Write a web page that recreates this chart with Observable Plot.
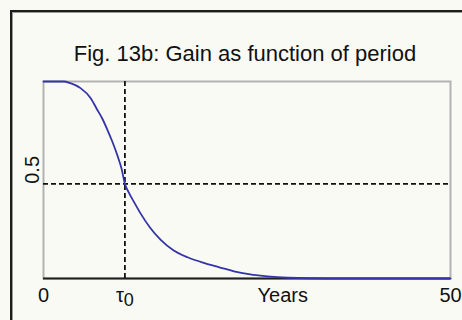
<!DOCTYPE html>
<html>
<head>
<meta charset="utf-8">
<script src="https://cdn.jsdelivr.net/npm/d3@7"></script>
<script src="https://cdn.jsdelivr.net/npm/@observablehq/plot@0.6"></script>
<style>
  html, body { margin: 0; padding: 0; width: 462px; height: 320px; overflow: hidden; background: #fafaf4; }
  #frame { position: absolute; left: 10px; top: 10px; width: 600px; height: 500px;
           border-left: 2px solid #1c1c1c; border-top: 2px solid #1c1c1c;
           box-shadow: inset 1px 1px 0 #9a9a9a; }
  #chart { position: absolute; left: 0; top: 0; }
</style>
</head>
<body>
<div id="frame"></div>
<div id="chart"></div>
<script>
const title = "Fig. 13b: Gain as function of period";
const years = [0, 2.5, 3.3, 4.55, 5.8, 6.6, 7.2, 7.85, 8.45, 9.05, 9.6, 10, 10.5, 11.1, 11.9, 13.1, 14.4, 16.0, 17.7, 19.7, 21.7, 23.4, 25.4, 27.5, 30, 35, 50];
const gain  = [1.04, 1.04, 1.031, 1.005, 0.952, 0.891, 0.846, 0.785, 0.723, 0.653, 0.578, 0.5, 0.452, 0.405, 0.345, 0.268, 0.204, 0.148, 0.112, 0.082, 0.058, 0.038, 0.022, 0.011, 0.004, 0, 0];
const tau0 = 10;
const halfGain = 0.5;
const xTickValues = [0, 10, 29.4, 50];
const xTickLabels = ["0", "τ0", "Years", "50"];
const yTickValues = [0.5];
const yTickLabels = ["0.5"];

const data = years.map((t, i) => ({t, g: gain[i]}));

const plot = Plot.plot({
  width: 462,
  height: 320,
  marginTop: 81,
  marginBottom: 42,
  marginLeft: 43,
  marginRight: 12,
  style: { background: "transparent", fontFamily: "'Liberation Sans', Arial, sans-serif" },
  x: { domain: [0, 50], axis: null },
  y: { domain: [0, 1.04], axis: null },
  marks: [
    Plot.frame({ stroke: "#b2b2b2", strokeWidth: 2 }),
    Plot.ruleY([0], { stroke: "#202020", strokeWidth: 2 }),
    Plot.ruleX([tau0], { stroke: "#111", strokeWidth: 1.8, strokeDasharray: "5,3" }),
    Plot.ruleY([halfGain], { stroke: "#111", strokeWidth: 1.8, strokeDasharray: "5,3" }),
    Plot.line(data, { x: "t", y: "g", stroke: "#3434a8", strokeWidth: 1.8, curve: "monotone-x" }),
    Plot.text(xTickValues, { x: d => d, text: (d, i) => xTickLabels[i], frameAnchor: "bottom", dy: 23, fontSize: 20, fill: "#111" }),
    Plot.text(yTickValues, { y: d => d, text: (d, i) => yTickLabels[i], frameAnchor: "left", dx: -11, rotate: -90, fontSize: 20, fill: "#111" }),
    Plot.text([title], { text: d => d, frameAnchor: "top", dy: -36, dx: -2, fontSize: 22, fill: "#111" })
  ]
});
document.getElementById("chart").appendChild(plot);
plot.querySelectorAll("text").forEach(el => {
  if (el.textContent === "τ0") {
    el.textContent = "τ";
    const ts = document.createElementNS("http://www.w3.org/2000/svg", "tspan");
    ts.setAttribute("dy", "4");
    ts.setAttribute("font-size", "18");
    ts.textContent = "0";
    el.appendChild(ts);
  }
});
</script>
</body>
</html>
